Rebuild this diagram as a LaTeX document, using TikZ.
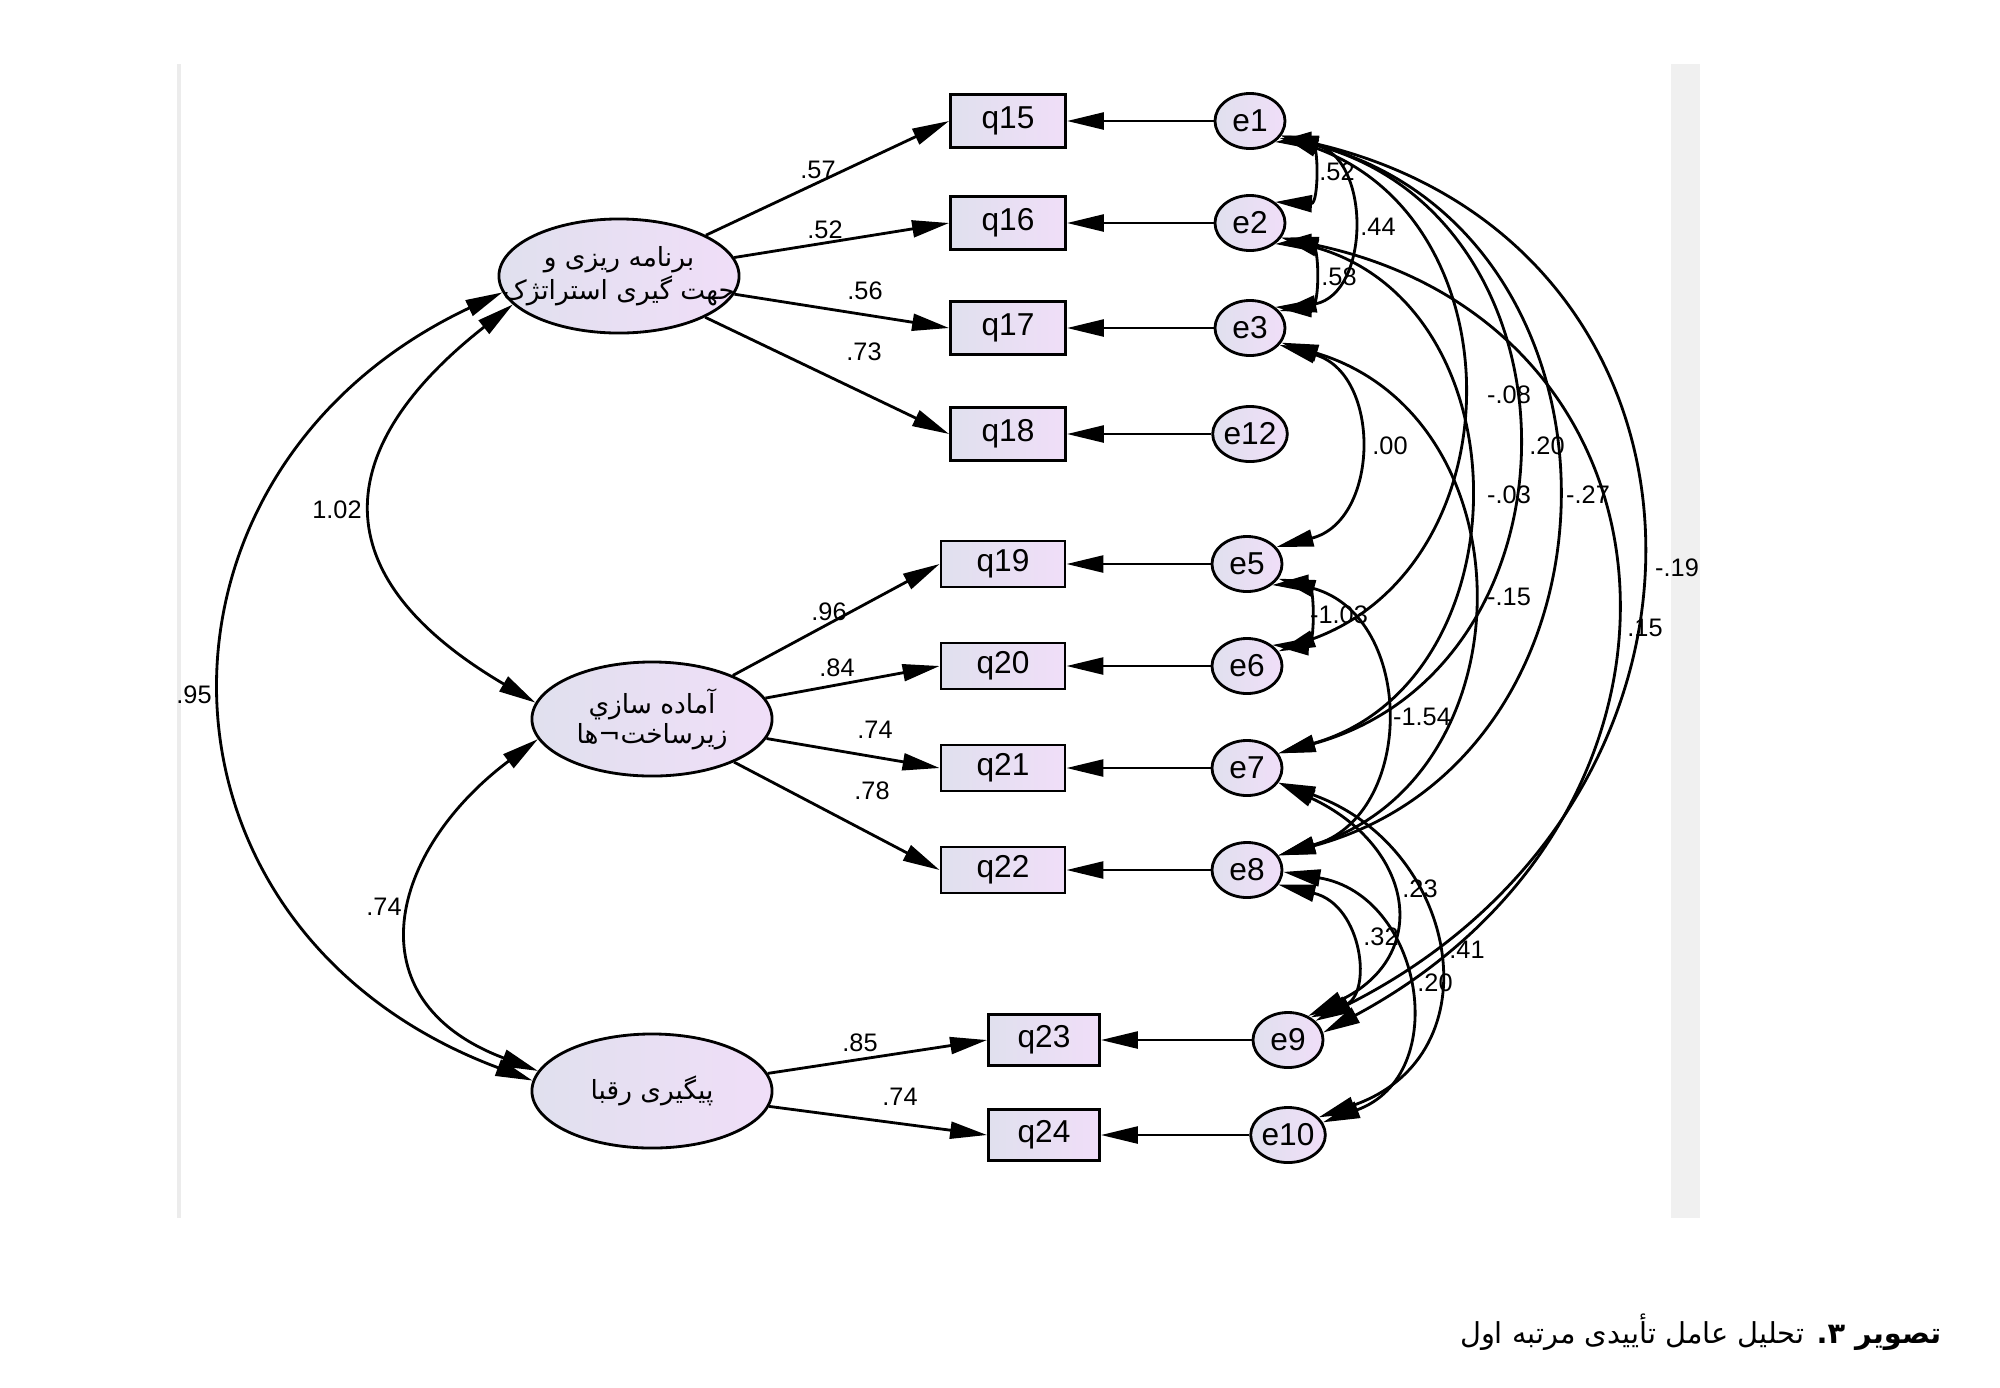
\documentclass[tikz,border=0pt]{standalone}
\usepackage{fontspec}
\setmainfont{Liberation Sans}
\newfontfamily\farsi[Script=Arabic]{DejaVu Sans}
\TeXXeTstate=1
\usetikzlibrary{shapes.geometric,arrows.meta}
\definecolor{fillL}{RGB}{224,224,238}
\definecolor{fillR}{RGB}{240,222,248}
\begin{document}
\begin{tikzpicture}[x=0.01cm, y=-0.01cm,
  obs/.style={draw, line width=0.8pt, minimum width=1.15cm, minimum height=0.53cm, inner sep=0pt, left color=fillL, right color=fillR, font=\fontsize{9}{10}\selectfont},
  err/.style={ellipse, draw, line width=0.8pt, minimum width=0.7cm, minimum height=0.55cm, inner sep=0pt, left color=fillL, right color=fillR, font=\fontsize{9}{10}\selectfont},
  lat/.style={ellipse, draw, line width=0.8pt, minimum width=2.4cm, minimum height=1.14cm, inner sep=0pt, left color=fillL, right color=fillR},
  lattxt/.style={align=center, inner sep=0pt, font=\farsi\fontsize{7.5}{8.5}\selectfont},
  load/.style={line width=0.8pt, -{Triangle[length=10.5pt,width=4.8pt]}},
  cov/.style={line width=0.8pt, {Triangle[length=10.5pt,width=4.8pt]}-{Triangle[length=10.5pt,width=4.8pt]}},
  lbl/.style={inner sep=0pt, font=\fontsize{7.2}{8}\selectfont}]
\useasboundingbox (0,0) rectangle (2000,1387);
\fill[gray!12] (1671,64) rectangle (1700,1218);
\draw[gray!15, line width=1.2pt] (179,64) -- (179,1218);
% latent variables
\node[lat] (lat1) at (619,276){};
\node[lattxt] (lat1t) at (lat1){\beginR برنامه ریزی و\endR \\ \beginR جهت گیری استراتژک\endR};
\node[lat] (lat2) at (652,719){};
\node[lattxt] (lat2t) at (lat2){\beginR آماده سازي\endR \\ \beginR زيرساخت¬ها\endR};
\node[lat] (lat3) at (652,1091){};
\node[lattxt] (lat3t) at (lat3){\beginR پیگیری رقبا\endR};
% observed items and errors
\node[obs] (q15) at (1008,121){q15};
\node[err] (e1) at (1250,121){e1};
\draw[load](e1) -- (q15);
\node[obs] (q16) at (1008,223){q16};
\node[err] (e2) at (1250,223){e2};
\draw[load](e2) -- (q16);
\node[obs] (q17) at (1008,328){q17};
\node[err] (e3) at (1250,328){e3};
\draw[load](e3) -- (q17);
\node[obs] (q18) at (1008,434){q18};
\node[err] (e12) at (1250,434){e12};
\draw[load](e12) -- (q18);
\node[obs, minimum width=1.24cm, minimum height=0.46cm] (q19) at (1003,564){q19};
\node[err] (e5) at (1247,564){e5};
\draw[load](e5) -- (q19);
\node[obs, minimum width=1.24cm, minimum height=0.46cm] (q20) at (1003,666){q20};
\node[err] (e6) at (1247,666){e6};
\draw[load](e6) -- (q20);
\node[obs, minimum width=1.24cm, minimum height=0.46cm] (q21) at (1003,768){q21};
\node[err] (e7) at (1247,768){e7};
\draw[load](e7) -- (q21);
\node[obs, minimum width=1.24cm, minimum height=0.46cm] (q22) at (1003,870){q22};
\node[err] (e8) at (1247,870){e8};
\draw[load](e8) -- (q22);
\node[obs, minimum width=1.11cm, minimum height=0.51cm] (q23) at (1044,1040){q23};
\node[err] (e9) at (1288,1040){e9};
\draw[load](e9) -- (q23);
\node[obs, minimum width=1.11cm, minimum height=0.51cm] (q24) at (1044,1135){q24};
\node[err] (e10) at (1288,1135){e10};
\draw[load](e10) -- (q24);
% loadings
\draw[load](lat1) -- (q15.west);
\draw[load](lat1) -- (q16.west);
\draw[load](lat1) -- (q17.west);
\draw[load](lat1) -- (q18.west);
\draw[load](lat2) -- (q19.west);
\draw[load](lat2) -- (q20.west);
\draw[load](lat2) -- (q21.west);
\draw[load](lat2) -- (q22.west);
\draw[load](lat3) -- (q23.west);
\draw[load](lat3) -- (q24.west);
\node[lbl] (w15) at (818,170){.57};
\node[lbl] (w16) at (825,230){.52};
\node[lbl] (w17) at (865,291){.56};
\node[lbl] (w18) at (864,352){.73};
\node[lbl] (w19) at (829,612){.96};
\node[lbl] (w20) at (837,668){.84};
\node[lbl] (w21) at (875,730){.74};
\node[lbl] (w22) at (872,791){.78};
\node[lbl] (w23) at (860,1043){.85};
\node[lbl] (w24) at (900,1097){.74};
% factor covariances
\draw[cov](lat1.195) .. controls (340,440) and (310,570) .. (lat2.172);
\draw[cov](lat2.190) .. controls (390,850) and (350,1000) .. (lat3.170);
\draw[cov](lat1.188) .. controls (125,470) and (130,930) .. (lat3.175);
\node[lbl] (c12) at (337,510){1.02};
\node[lbl] (c23) at (384,907){.74};
\node[lbl] (c13) at (194,695){.95};
% error covariances
\draw[cov](e1.-40) .. controls (1319,140) and (1319,204) .. (e2.40);
\draw[cov](e2.-40) .. controls (1320,242) and (1320,309) .. (e3.40);
\draw[cov](e5.-40) .. controls (1315,583) and (1315,647) .. (e6.40);
\draw[cov](e1.-30) .. controls (1371,156) and (1371,293) .. (e3.30);
\draw[cov](e3.-30) .. controls (1382,373) and (1380,521) .. (e5.30);
\draw[cov](e5.-25) .. controls (1416,617) and (1416,816) .. (e8.25);
\draw[cov](e1.-25) .. controls (1519,221) and (1516,565) .. (e6.25);
\draw[cov](e1.-25) .. controls (1592,220) and (1589,668) .. (e7.25);
\draw[cov](e2.-25) .. controls (1528,308) and (1525,683) .. (e7.25);
\draw[cov](e1.-25) .. controls (1645,233) and (1642,757) .. (e8.25);
\draw[cov](e3.-25) .. controls (1533,418) and (1530,780) .. (e8.25);
\draw[cov](e1.-25) .. controls (1740,244) and (1760,797) .. (e9.35);
\draw[cov](e2.-25) .. controls (1702,328) and (1727,816) .. (e9.12);
\draw[cov](e7.-25) .. controls (1413,846) and (1433,955) .. (e9.50);
\draw[cov](e7.-25) .. controls (1458,846) and (1498,1055) .. (e10.30);
\draw[cov](e8.-25) .. controls (1363,905) and (1373,995) .. (e9.45);
\draw[cov](e8.-3) .. controls (1423,895) and (1453,1075) .. (e10.20);
\node[lbl] (r12) at (1337,172){.52};
\node[lbl] (r13) at (1378,227){.44};
\node[lbl] (r23) at (1339,277){.58};
\node[lbl] (r35) at (1390,446){.00};
\node[lbl] (r56) at (1339,615){-1.03};
\node[lbl] (r16) at (1509,395){-.08};
\node[lbl] (r17) at (1547,446){.20};
\node[lbl] (r27) at (1509,495){-.03};
\node[lbl] (r18) at (1588,495){-.27};
\node[lbl] (r19) at (1677,568){-.19};
\node[lbl] (r38) at (1509,597){-.15};
\node[lbl] (r29) at (1645,628){.15};
\node[lbl] (r58) at (1422,717){-1.54};
\node[lbl] (r79) at (1420,889){.23};
\node[lbl] (r89) at (1381,937){.32};
\node[lbl] (r710) at (1467,950){.41};
\node[lbl] (r810) at (1435,983){.20};
% caption
\node[anchor=base east, inner sep=0pt, font=\farsi\fontsize{8.2}{10}\selectfont] (cap) at (1942,1343){\beginR\textbf{تصویر ۳.} تحلیل عامل تأییدی مرتبه اول\endR};
\end{tikzpicture}
\end{document}
